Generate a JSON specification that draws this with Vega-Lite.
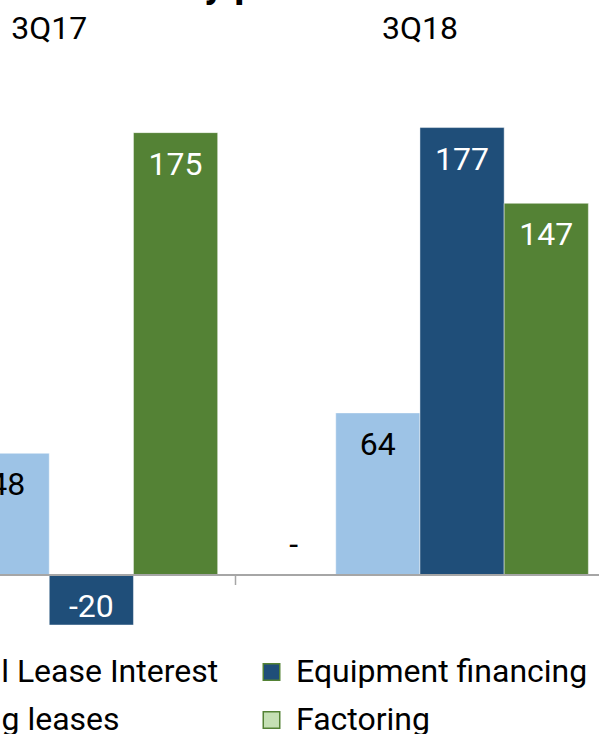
{
  "$schema": "https://vega.github.io/schema/vega-lite/v6.json",
  "width": 599,
  "height": 734,
  "autosize": {"type": "none"},
  "padding": 0,
  "background": "white",
  "config": {"view": {"stroke": null}, "font": "Roboto"},
  "title": {
    "text": "Net income by product",
    "anchor": "start",
    "frame": "group",
    "font": "Roboto",
    "fontWeight": "bold",
    "fontSize": 40,
    "baseline": "alphabetic",
    "dx": -34,
    "dy": 37,
    "offset": 0,
    "color": "black"
  },
  "data": {
    "values": [
      {"quarter": "3Q17", "series": "Financial Lease Interest", "value": 0, "label": "-"},
      {"quarter": "3Q17", "series": "Operating leases", "value": 48, "label": "48"},
      {"quarter": "3Q17", "series": "Equipment financing", "value": -20, "label": "-20"},
      {"quarter": "3Q17", "series": "Factoring", "value": 175, "label": "175"},
      {"quarter": "3Q18", "series": "Financial Lease Interest", "value": 0, "label": "-"},
      {"quarter": "3Q18", "series": "Operating leases", "value": 64, "label": "64"},
      {"quarter": "3Q18", "series": "Equipment financing", "value": 177, "label": "177"},
      {"quarter": "3Q18", "series": "Factoring", "value": 147, "label": "147"}
    ]
  },
  "resolve": {"axis": {"x": "independent"}},
  "layer": [
    {
      "mark": {"type": "bar", "stroke": "white", "strokeWidth": 1, "strokeOpacity": 0.45},
      "encoding": {
        "x": {
          "field": "quarter", "type": "nominal",
          "scale": {"range": [-136.1, 605.3], "paddingInner": 0, "paddingOuter": 0},
          "axis": {"orient": "top", "offset": -38, "domain": false, "ticks": false, "tickSize": 0, "labelPadding": 0, "labelBaseline": "alphabetic", "labelFontSize": 32, "labelFont": "Roboto", "labelColor": "black", "labelAngle": 0, "title": null, "grid": false}
        },
        "xOffset": {
          "field": "series", "type": "nominal",
          "sort": ["Financial Lease Interest", "Operating leases", "Equipment financing", "Factoring"],
          "scale": {"paddingInner": 0, "paddingOuter": 0.201}
        },
        "y": {"field": "value", "type": "quantitative", "scale": {"domain": [0, 200], "range": [574.5, 69.5], "nice": false, "zero": false}, "axis": null},
        "color": {
          "condition": {"test": "datum.series === 'Factoring'", "value": "#548235"},
          "field": "series", "type": "nominal",
          "scale": {
            "domain": ["Financial Lease Interest", "Operating leases", "Equipment financing", "Factoring"],
            "range": ["#A5A5A5", "#9DC3E6", "#1F4E79", "#C5E0B4"]
          },
          "legend": {
            "orient": "none", "legendX": -159.5, "legendY": 656,
            "columns": 2, "columnPadding": 37, "rowPadding": 16,
            "symbolType": "square", "symbolSize": 272, "symbolStrokeWidth": 1.5, "symbolStrokeColor": "#548235", "symbolOpacity": 1,
            "labelFontSize": 32, "labelFont": "Roboto", "labelColor": "black",
            "labelOffset": 8.5, "labelLimit": 0, "padding": 0, "title": null
          }
        }
      }
    },
    {
      "transform": [{"filter": "datum.value > 0"}],
      "mark": {"type": "text", "baseline": "alphabetic", "align": "center", "dy": 42, "fontSize": 32, "font": "Roboto"},
      "encoding": {
        "x": {
          "field": "quarter", "type": "nominal",
          "axis": {"orient": "bottom", "offset": -159.5, "labels": false, "title": null, "grid": false, "domainColor": "#A6A6A6", "domainWidth": 2, "tickColor": "#A6A6A6", "tickWidth": 1.5, "tickSize": 10, "tickBand": "extent", "zindex": 1}
        },
        "xOffset": {"field": "series", "type": "nominal", "sort": ["Financial Lease Interest", "Operating leases", "Equipment financing", "Factoring"]},
        "y": {"field": "value", "type": "quantitative"},
        "text": {"field": "label"},
        "color": {"condition": {"test": "datum.series === 'Operating leases'", "value": "black"}, "value": "white"}
      }
    },
    {
      "transform": [{"filter": "datum.value < 0"}],
      "mark": {"type": "text", "baseline": "alphabetic", "align": "center", "dy": -8, "fontSize": 32, "font": "Roboto"},
      "encoding": {
        "x": {"field": "quarter", "type": "nominal", "axis": null},
        "xOffset": {"field": "series", "type": "nominal", "sort": ["Financial Lease Interest", "Operating leases", "Equipment financing", "Factoring"]},
        "y": {"field": "value", "type": "quantitative"},
        "text": {"field": "label"},
        "color": {"condition": {"test": "datum.series === 'Operating leases'", "value": "black"}, "value": "white"}
      }
    },
    {
      "transform": [{"filter": "datum.value == 0"}],
      "mark": {"type": "text", "baseline": "alphabetic", "align": "center", "dy": -20, "fontSize": 32, "font": "Roboto", "color": "black"},
      "encoding": {
        "x": {"field": "quarter", "type": "nominal", "axis": null},
        "xOffset": {"field": "series", "type": "nominal", "sort": ["Financial Lease Interest", "Operating leases", "Equipment financing", "Factoring"]},
        "y": {"field": "value", "type": "quantitative"},
        "text": {"field": "label"}
      }
    }
  ]
}
